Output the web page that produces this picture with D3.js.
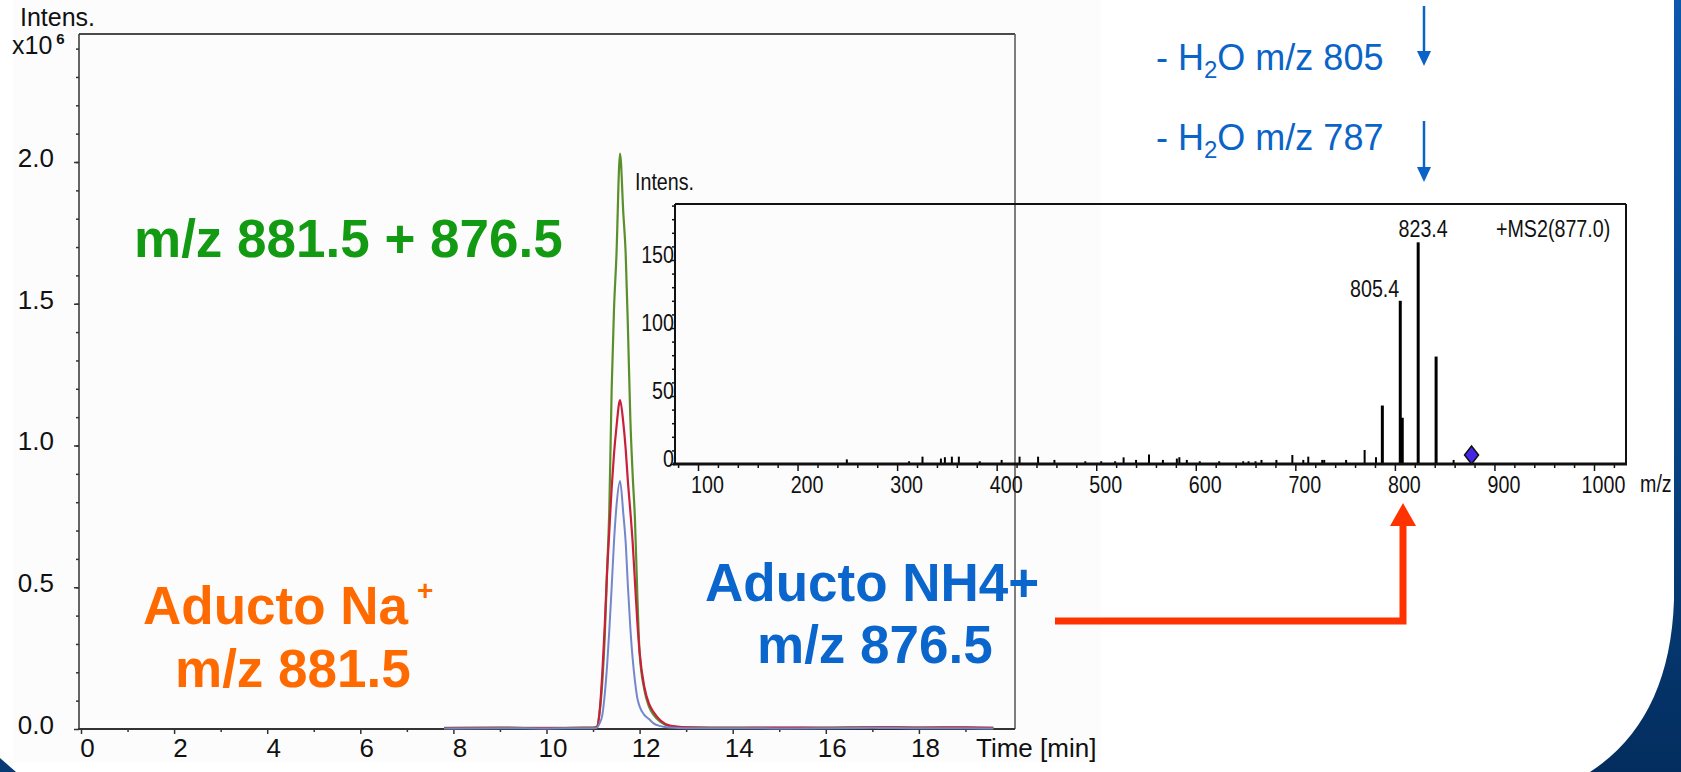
<!DOCTYPE html>
<html>
<head>
<meta charset="utf-8">
<script src="https://cdn.jsdelivr.net/npm/d3@7"></script>
<style>
  body { margin: 0; background: #fff; }
  svg { display: block; font-family: "Liberation Sans", Arial, sans-serif; }
</style>
</head>
<body>
<svg id="graf" width="1681" height="772"></svg>
<script>
// ---- cromatograma (EIC) ----
var tiempos = [7.8, 9.0, 10.0, 10.8, 11.0, 11.08, 11.14, 11.2, 11.25, 11.3, 11.35, 11.4, 11.45, 11.5, 11.58,
               11.65, 11.7, 11.75, 11.8, 11.85, 11.9, 11.95, 12.0, 12.1, 12.2, 12.3, 12.45, 12.65, 13.0,
               14.0, 15.0, 16.0, 17.0, 18.0, 19.0, 19.6];
// m/z 881.5 + 876.5
var verde = [0.004, 0.005, 0.004, 0.005, 0.005, 0.008, 0.056, 0.17, 0.32, 0.55, 0.78, 1.2, 1.48, 1.66, 2.03,
             1.82, 1.68, 1.41, 1.1, 0.9, 0.74, 0.48, 0.27, 0.14, 0.08, 0.05, 0.025, 0.01, 0.006,
             0.005, 0.004, 0.005, 0.006, 0.005, 0.005, 0.004];
// m/z 881.5 (Na+)
var rojo = [0.003, 0.004, 0.003, 0.004, 0.004, 0.006, 0.06, 0.2, 0.36, 0.55, 0.7, 0.85, 0.97, 1.06, 1.16,
            1.08, 0.99, 0.87, 0.77, 0.66, 0.52, 0.38, 0.27, 0.15, 0.09, 0.06, 0.03, 0.012, 0.006,
            0.004, 0.005, 0.004, 0.006, 0.005, 0.006, 0.004];
// m/z 876.5 (NH4+)
var azul = [0.002, 0.003, 0.002, 0.003, 0.003, 0.004, 0.02, 0.05, 0.12, 0.22, 0.35, 0.5, 0.66, 0.78, 0.875,
            0.76, 0.66, 0.5, 0.36, 0.25, 0.17, 0.11, 0.08, 0.05, 0.035, 0.02, 0.01, 0.005, 0.003,
            0.003, 0.002, 0.003, 0.004, 0.003, 0.003, 0.002];
var ticksTiempo = [0, 2, 4, 6, 8, 10, 12, 14, 16, 18];
var ticksIntens = [0.0, 0.5, 1.0, 1.5, 2.0];

// ---- espectro MS2 (877.0) ----
var mzPicos = [249.5, 312, 325.5, 344, 348, 355, 362, 383, 405, 423, 441.6, 458, 489, 505, 519, 527.5, 540,
               553, 567, 581, 583.5, 591, 604, 623.5, 647.6, 653, 660, 666, 681, 697, 708, 713, 727, 729,
               751, 769.6, 781, 787.4, 805.4, 807.4, 823.4, 841.4, 859];
var intPicos = [3.4, 2, 5.4, 4, 5, 5.4, 5.4, 2, 3, 5.4, 5.4, 3, 2, 2, 2, 4.9, 3,
                7, 3, 4, 5, 3, 2, 2, 2, 2, 2, 3, 3, 6.6, 3, 5.4, 3, 3,
                3, 10.3, 5, 43, 120, 34, 163, 79, 3];
var mzEtiquetas = [805.4, 823.4];
var mzPrecursor = 877.0;
var ticksMz = [100, 200, 300, 400, 500, 600, 700, 800, 900, 1000];
var ticksMs = [0, 50, 100, 150];

var ESTRECHO = 0.82;   // letra estrecha del inserto
var svg = d3.select("#graf");

// fondo: banda azul a la derecha y esquina
var defs = svg.append("defs");
var grad = defs.append("linearGradient").attr("id", "azulFondo")
  .attr("x1", 0).attr("y1", 0).attr("x2", 0).attr("y2", 1);
grad.append("stop").attr("offset", "0%").attr("stop-color", "#0b58ad");
grad.append("stop").attr("offset", "60%").attr("stop-color", "#074282");
grad.append("stop").attr("offset", "100%").attr("stop-color", "#032d5e");

svg.append("rect").attr("x", 13).attr("y", 0).attr("width", 1088).attr("height", 762).attr("fill", "#fcfcfc");
svg.append("path").attr("d", "M1674,0 L1674,600 Q1670,720 1590,772 L1681,772 L1681,0 Z").attr("fill", "url(#azulFondo)");
svg.append("path").attr("d", "M0,758 L16,772 L0,772 Z").attr("fill", "#083a74");

// ======== cromatograma ========
var x = d3.scaleLinear().domain([0, 20]).range([81, 1012]);
var y = d3.scaleLinear().domain([0, 2.0]).range([729, 162]);

var g = svg.append("g");

// ejes
var ejeX = g.append("g").attr("transform", "translate(0,729)")
  .call(d3.axisBottom(x).tickValues(ticksTiempo).tickSize(5).tickFormat(d3.format("d")));
ejeX.selectAll("text").attr("y", 28).attr("dy", null).attr("dx", 6).attr("font-size", 26).attr("fill", "#111");
g.append("g").attr("transform", "translate(0,729)")
  .call(d3.axisBottom(x).tickValues(d3.range(1, 20, 2)).tickSize(3).tickFormat(""));

var ejeY = g.append("g").attr("transform", "translate(79,0)")
  .call(d3.axisLeft(y).tickValues(ticksIntens).tickSize(5).tickFormat(d3.format(".1f")));
ejeY.selectAll("text").attr("x", -25).attr("y", -4).attr("font-size", 26).attr("fill", "#111");
g.append("g").attr("transform", "translate(79,0)")
  .call(d3.axisLeft(y).tickValues(d3.range(0.1, 2.45, 0.1)).tickSize(3).tickFormat(""));

g.selectAll(".domain").remove();
g.selectAll(".tick line").attr("stroke", "#333").attr("stroke-width", 1.5);

// marco
g.append("line").attr("x1", 79).attr("x2", 1015).attr("y1", 34).attr("y2", 34).attr("stroke", "#111").attr("stroke-width", 1.5);
g.append("line").attr("x1", 1015).attr("x2", 1015).attr("y1", 34).attr("y2", 729).attr("stroke", "#555").attr("stroke-width", 1.5);
g.append("line").attr("x1", 79).attr("x2", 79).attr("y1", 34).attr("y2", 730).attr("stroke", "#333").attr("stroke-width", 1.5);
g.append("line").attr("x1", 78).attr("x2", 1015).attr("y1", 729).attr("y2", 729).attr("stroke", "#333").attr("stroke-width", 2);

g.append("text").text("Intens.").attr("x", 20).attr("y", 26).attr("font-size", 25).attr("fill", "#111");
var exp = g.append("text").attr("x", 12).attr("y", 54).attr("font-size", 25).attr("fill", "#111");
exp.append("tspan").text("x10");
exp.append("tspan").text("6").attr("dx", 4).attr("dy", -10).attr("font-size", 15).attr("font-weight", "bold");
g.append("text").text("Time [min]").attr("x", 976).attr("y", 757).attr("font-size", 26).attr("fill", "#111");

// trazas
var linea = function(valores) {
  return d3.line().curve(d3.curveMonotoneX)
    .x(function(d, i) { return x(tiempos[i]); })
    .y(function(d) { return y(d); })(valores);
};
g.append("path").attr("d", linea(verde)).attr("fill", "none").attr("stroke", "#5a8f2c").attr("stroke-width", 2.2);
g.append("path").attr("d", linea(rojo)).attr("fill", "none").attr("stroke", "#c8203a").attr("stroke-width", 2.2);
g.append("path").attr("d", linea(azul)).attr("fill", "none").attr("stroke", "#7486cc").attr("stroke-width", 2);

// ======== espectro MS2 (inserto) ========
var xm = d3.scaleLinear().domain([100, 1000]).range([698, 1594]);
var ym = d3.scaleLinear().domain([0, 150]).range([464, 260]);
var m = svg.append("g");

// texto estrecho: escala horizontal sobre Liberation Sans
function textoEstrecho(padre, str, px, py, ancla) {
  return padre.append("text").text(str)
    .attr("transform", "scale(" + ESTRECHO + ",1)")
    .attr("x", px / ESTRECHO).attr("y", py)
    .attr("text-anchor", ancla || "start")
    .attr("font-size", 24).attr("fill", "#111");
}

var ejeMx = m.append("g").attr("transform", "translate(0,464)")
  .call(d3.axisBottom(xm).tickValues(ticksMz).tickSize(7).tickFormat(d3.format("d")));
ejeMx.selectAll("text").attr("transform", "scale(" + ESTRECHO + ",1)")
  .attr("x", 9 / ESTRECHO).attr("y", 29).attr("dy", null).attr("font-size", 24).attr("fill", "#111");
m.append("g").attr("transform", "translate(0,464)")
  .call(d3.axisBottom(xm).tickValues(d3.range(80, 1030, 20).filter(function(d){ return d % 100 != 0; })).tickSize(4).tickFormat(""));
var ejeMy = m.append("g").attr("transform", "translate(675,0)")
  .call(d3.axisLeft(ym).tickValues(ticksMs).tickSize(5).tickFormat(d3.format("d")));
ejeMy.selectAll("text").attr("transform", "scale(" + ESTRECHO + ",1)")
  .attr("x", -1 / ESTRECHO).attr("y", -5).attr("font-size", 24).attr("fill", "#111");
m.append("g").attr("transform", "translate(675,0)")
  .call(d3.axisLeft(ym).tickValues(d3.range(10, 191, 10).filter(function(d){ return d % 50 != 0; })).tickSize(3).tickFormat(""));
m.selectAll(".domain").remove();
m.selectAll(".tick line").attr("stroke", "#111").attr("stroke-width", 1.5);

m.append("line").attr("x1", 675).attr("x2", 1626).attr("y1", 204).attr("y2", 204).attr("stroke", "#111").attr("stroke-width", 2);
m.append("line").attr("x1", 1626).attr("x2", 1626).attr("y1", 204).attr("y2", 465).attr("stroke", "#111").attr("stroke-width", 2);
m.append("line").attr("x1", 675).attr("x2", 675).attr("y1", 204).attr("y2", 465).attr("stroke", "#111").attr("stroke-width", 2);

// picos
m.selectAll(".pico").data(mzPicos).enter().append("line")
  .attr("class", "pico")
  .attr("x1", function(d) { return xm(d); })
  .attr("x2", function(d) { return xm(d); })
  .attr("y1", ym(0))
  .attr("y2", function(d, i) { return ym(intPicos[i]); })
  .attr("stroke", "#000")
  .attr("stroke-width", function(d, i) { return intPicos[i] > 30 ? 3 : 2; });

m.append("line").attr("x1", 673).attr("x2", 1627).attr("y1", 464).attr("y2", 464).attr("stroke", "#111").attr("stroke-width", 3);

// precursor
var px = xm(mzPrecursor), py = ym(0) - 9;
m.append("path").attr("d", "M" + px + "," + (py - 9) + " L" + (px + 7) + "," + py + " L" + px + "," + (py + 9) + " L" + (px - 7) + "," + py + " Z")
  .attr("fill", "#4326e6").attr("stroke", "#111").attr("stroke-width", 1.5);

// etiquetas de picos
textoEstrecho(m, mzEtiquetas[0].toFixed(1), xm(mzEtiquetas[0]) - 1,
  ym(intPicos[mzPicos.indexOf(mzEtiquetas[0])]) - 4, "end");
textoEstrecho(m, mzEtiquetas[1].toFixed(1), xm(mzEtiquetas[1]) + 5,
  ym(intPicos[mzPicos.indexOf(mzEtiquetas[1])]) - 5, "middle");
textoEstrecho(m, "+MS2(877.0)", 1496, 237);
textoEstrecho(m, "Intens.", 635, 190);
textoEstrecho(m, "m/z", 1640, 492);

// ======== anotaciones ========
var a = svg.append("g").attr("font-weight", "bold").attr("font-size", 53);
a.append("text").text("m/z 881.5 + 876.5").attr("x", 134).attr("y", 257).attr("fill", "#139a13");
var na = a.append("text").attr("x", 143).attr("y", 624).attr("fill", "#ff6a00");
na.append("tspan").text("Aducto Na");
na.append("tspan").text("+").attr("dx", 9).attr("dy", -24).attr("font-size", 28);
a.append("text").text("m/z 881.5").attr("x", 175).attr("y", 687).attr("fill", "#ff6a00");
a.append("text").text("Aducto NH4+").attr("x", 705).attr("y", 601).attr("fill", "#0a66cc");
a.append("text").text("m/z 876.5").attr("x", 757).attr("y", 663).attr("fill", "#0a66cc");

// flecha roja
svg.append("path").attr("d", "M1055,621 L1403,621 L1403,524")
  .attr("fill", "none").attr("stroke", "#ff3300").attr("stroke-width", 7);
svg.append("path").attr("d", "M1390,526 L1403,503 L1416,526 Z").attr("fill", "#ff3300");

// perdidas de agua
var perdidas = [{t: "805", yb: 70, y0: 6, y1: 66}, {t: "787", yb: 150, y0: 121, y1: 182}];
perdidas.forEach(function(p) {
  var tx = svg.append("text").attr("x", 1156).attr("y", p.yb).attr("font-size", 36).attr("fill", "#0a64c8");
  tx.append("tspan").text("- H");
  tx.append("tspan").text("2").attr("font-size", 24).attr("dy", 8);
  tx.append("tspan").text("O m/z " + p.t).attr("dy", -8);
  svg.append("line").attr("x1", 1424).attr("x2", 1424).attr("y1", p.y0).attr("y2", p.y1 - 12)
    .attr("stroke", "#0a64c8").attr("stroke-width", 2.5);
  svg.append("path").attr("d", "M1417," + (p.y1 - 15) + " L1424," + p.y1 + " L1431," + (p.y1 - 15) + " Z").attr("fill", "#0a64c8");
});
</script>
</body>
</html>
